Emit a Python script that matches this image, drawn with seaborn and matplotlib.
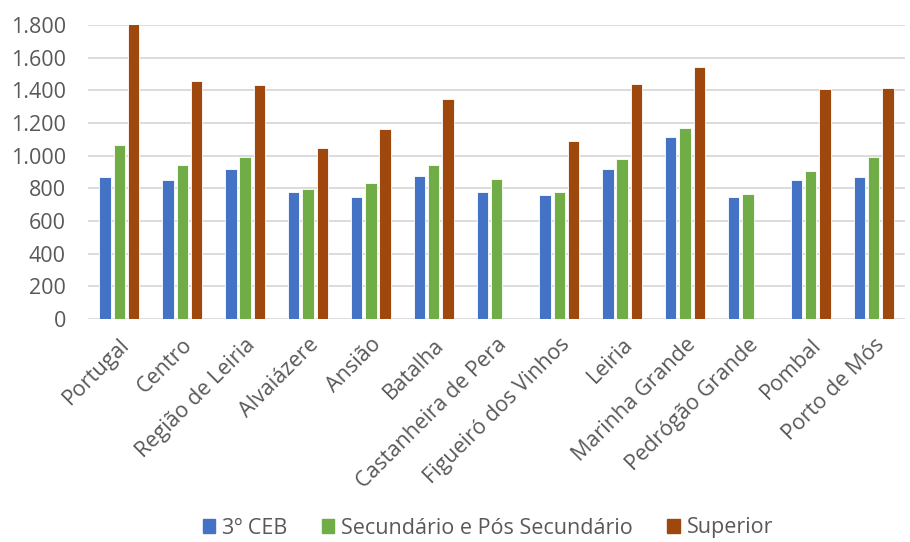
import pandas as pd
import numpy as np
import matplotlib
matplotlib.use('Agg')
import matplotlib.pyplot as plt
from matplotlib.ticker import FuncFormatter
import seaborn as sns

# Values
regions = ['Portugal', 'Centro', 'Região de Leiria', 'Alvaiázere', 'Ansião',
           'Batalha', 'Castanheira de Pera', 'Figueiró dos Vinhos', 'Leiria',
           'Marinha Grande', 'Pedrógão Grande', 'Pombal', 'Porto de Mós']
ceb3 = [868, 851, 917, 780, 747, 876, 778, 758, 917, 1115, 749, 849, 868]
secundario = [1066, 943, 990, 794, 833, 943, 856, 776, 982, 1168, 764, 907, 994]
superior = [1807, 1456, 1431, 1049, 1162, 1346, np.nan, 1090, 1437, 1540, np.nan, 1409, 1413]
series = ['3º CEB', 'Secundário e Pós Secundário', 'Superior']
colors = ['#4472C4', '#70AD47', '#9E480E']

df = pd.DataFrame({'Região': regions, series[0]: ceb3,
                   series[1]: secundario, series[2]: superior})
long = df.melt(id_vars='Região', var_name='Nível', value_name='Valor')

sns.set_style('white')
plt.rcParams['font.family'] = ['Open Sans', 'DejaVu Sans']

fig = plt.figure(figsize=(9.1, 5.42), dpi=100)
ax = fig.add_axes([88 / 910, 1 - 319 / 542, 817 / 910, 294 / 542])

sns.barplot(data=long, x='Região', y='Valor', hue='Nível', palette=colors,
            hue_order=series, width=0.68, gap=0.2, edgecolor='white',
            linewidth=0.6, saturation=1, ax=ax, zorder=3)

ax.set_ylim(0, 1800)
ax.set_yticks(range(0, 1801, 200))
ax.yaxis.set_major_formatter(FuncFormatter(lambda v, p: f'{int(v):,}'.replace(',', '.')))
ax.yaxis.grid(True, color='#D9D9D9', linewidth=1.3, zorder=0)
ax.set_axisbelow(True)
for s in ax.spines.values():
    s.set_visible(False)
ax.set_xlabel('')
ax.set_ylabel('')
ax.tick_params(axis='both', length=0, labelsize=15.5, labelcolor='#595959')
ax.tick_params(axis='y', pad=16)
ax.tick_params(axis='x', pad=11)
plt.setp(ax.get_xticklabels(), rotation=45, ha='right', rotation_mode='anchor')
ax.set_xlim(-0.5, len(regions) - 0.5)

ax.legend_.remove()
handles = [plt.Rectangle((0, 0), 1, 1, color=c) for c in colors]
fig.legend(handles, series, loc='center', bbox_to_anchor=(0.536, 1 - 528 / 542),
           ncol=3, frameon=False, fontsize=15.5, handlelength=0.6, handleheight=0.6,
           handletextpad=0.3, columnspacing=1.6, labelcolor='#595959',
           borderaxespad=0, borderpad=0)

fig.savefig('out.png', dpi=100)
